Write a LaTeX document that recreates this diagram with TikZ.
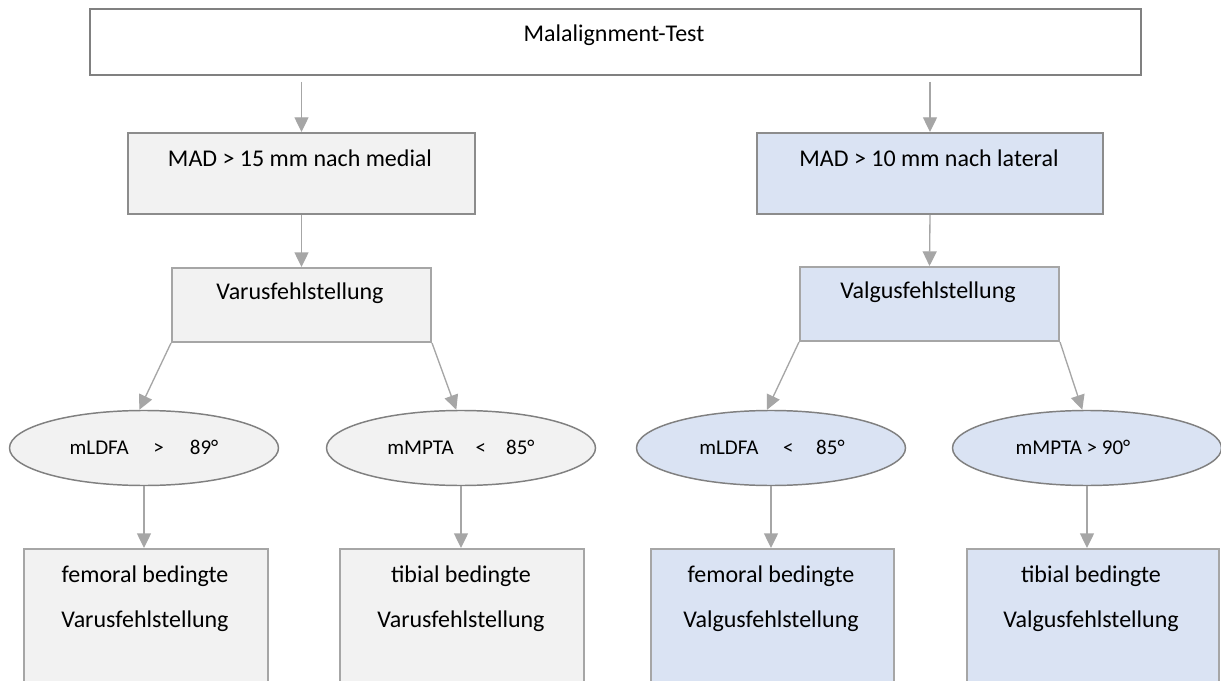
\documentclass[tikz,border=0pt]{standalone}
\usepackage{fontspec}
\setmainfont{Carlito}
\usetikzlibrary{arrows.meta,shapes.geometric}
\definecolor{gfill}{HTML}{F2F2F2}
\definecolor{bfill}{HTML}{DAE3F3}
\definecolor{darkbord}{HTML}{808080}
\definecolor{midbord}{HTML}{8C8C8C}
\definecolor{lightbord}{HTML}{A6A6A6}
\definecolor{arrcol}{HTML}{A6A6A6}
\tikzset{
  boxbase/.style={rectangle, anchor=north west, inner sep=0pt},
  titlebox/.style={boxbase, draw=darkbord, line width=1.5pt, fill=white},
  madbox/.style={boxbase, draw=midbord, line width=1.5pt},
  diagbox/.style={boxbase, draw=lightbord, line width=1.5pt},
  resbox/.style={boxbase, draw=lightbord, line width=1.2pt},
  oval/.style={ellipse, draw=darkbord, line width=1.1pt, inner sep=0pt,
               minimum width={269*0.75pt}, minimum height={75*0.75pt}},
  bigtxt/.style={inner sep=0pt, font=\fontsize{18}{33.75}\selectfont, align=center},
  smalltxt/.style={inner sep=0pt, font=\fontsize{15.75}{19}\selectfont},
  arr/.style={draw=arrcol, line width=1pt, -{Triangle[width=10.5pt,length=11pt]}},
}
\begin{document}
\begin{tikzpicture}[x=0.75pt,y=-0.75pt]
\clip (0,0) rectangle (1221,681);
\fill[white] (0,0) rectangle (1221,681);

% top
\node[titlebox, minimum width={1051*0.75pt}, minimum height={66*0.75pt}] (top) at (89,8) {};
\node[bigtxt] (toptxt) at (614,35) {Malalignment-Test};

% MAD boxes
\node[madbox, fill=gfill, minimum width={347*0.75pt}, minimum height={81*0.75pt}] (madL) at (127,132) {};
\node[bigtxt] (madLtxt) at (300,158) {MAD > 15 mm nach medial};
\node[madbox, fill=bfill, minimum width={346*0.75pt}, minimum height={81*0.75pt}] (madR) at (756,132) {};
\node[bigtxt] (madRtxt) at (929,158) {MAD > 10 mm nach lateral};

% Varus / Valgus
\node[diagbox, fill=gfill, minimum width={259*0.75pt}, minimum height={74*0.75pt}] (varus) at (171,267) {};
\node[bigtxt] (varustxt) at (300,293) {Varusfehlstellung};
\node[diagbox, fill=bfill, minimum width={259*0.75pt}, minimum height={74*0.75pt}] (valgus) at (799,266) {};
\node[bigtxt] (valgustxt) at (928,292) {Valgusfehlstellung};

% ellipses
\node[oval, fill=gfill] (e1) at (144,448) {};
\node[smalltxt] (e1txt) at (144,447) {mLDFA\hspace{18.5pt}>\hspace{19.5pt}89°};
\node[oval, fill=gfill] (e2) at (461,448) {};
\node[smalltxt] (e2txt) at (461,447) {mMPTA\hspace{16.5pt}<\hspace{15pt}85°};
\node[oval, fill=bfill] (e3) at (771,448) {};
\node[smalltxt] (e3txt) at (772,447) {mLDFA\hspace{18.5pt}<\hspace{17pt}85°};
\node[oval, fill=bfill] (e4) at (1087,448) {};
\node[smalltxt] (e4txt) at (1073,447) {mMPTA > 90°};

% result boxes
\node[resbox, fill=gfill, minimum width={244*0.75pt}, minimum height={200*0.75pt}] (b1) at (23,548) {};
\node[bigtxt] (b1txt) at (145,599) {femoral bedingte\\Varusfehlstellung};
\node[resbox, fill=gfill, minimum width={244*0.75pt}, minimum height={200*0.75pt}] (b2) at (339,548) {};
\node[bigtxt] (b2txt) at (461,599) {tibial bedingte\\Varusfehlstellung};
\node[resbox, fill=bfill, minimum width={243*0.75pt}, minimum height={200*0.75pt}] (b3) at (650,548) {};
\node[bigtxt] (b3txt) at (771,599) {femoral bedingte\\Valgusfehlstellung};
\node[resbox, fill=bfill, minimum width={252*0.75pt}, minimum height={200*0.75pt}] (b4) at (966,548) {};
\node[bigtxt] (b4txt) at (1091,599) {tibial bedingte\\Valgusfehlstellung};

% connectors
\draw[arr, shorten <=4.5pt] (madL.north |- top.south) -- (madL.north);
\draw[arr, shorten <=4.5pt] (madR.north |- top.south) -- (madR.north);
\draw[arr] (madL.south) -- (varus.north);
\draw[arr] (madR.south) -- (valgus.north);
\draw[arr] (varus.south west) -- (e1.97);
\draw[arr] (varus.south east) -- (e2.97);
\draw[arr] (valgus.south west) -- (e3.96);
\draw[arr] (valgus.south east) -- (e4.97);
\draw[arr] (e1.south) -- (e1.south |- b1.north);
\draw[arr] (e2.south) -- (e2.south |- b2.north);
\draw[arr] (e3.south) -- (e3.south |- b3.north);
\draw[arr] (e4.south) -- (e4.south |- b4.north);
\end{tikzpicture}
\end{document}
